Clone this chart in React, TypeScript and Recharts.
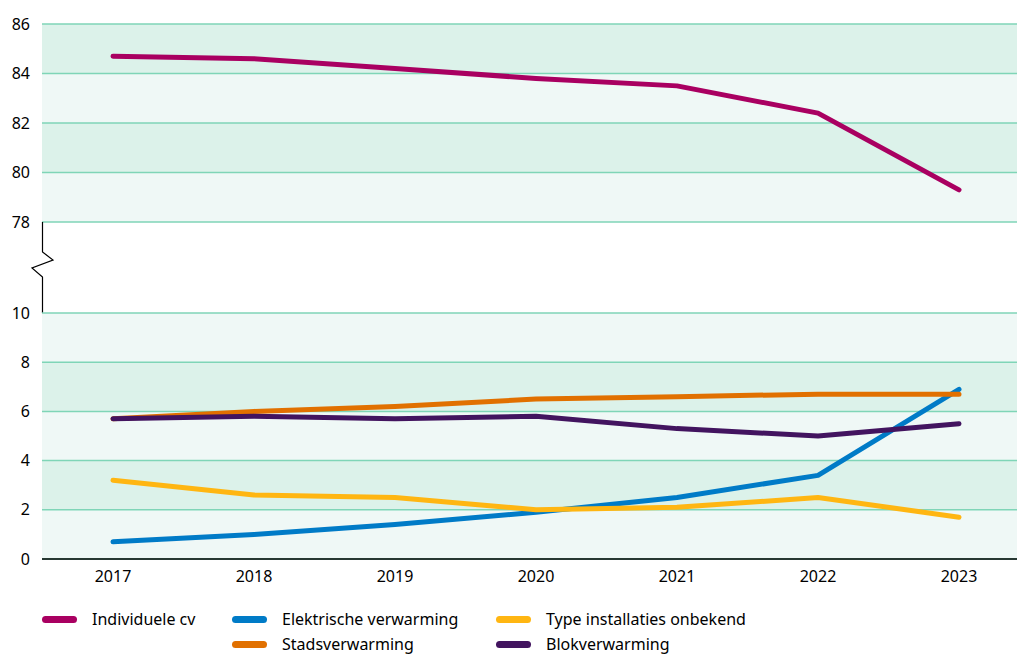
import { CartesianGrid, Line, LineChart, XAxis, YAxis } from "recharts";

const years = ["2017", "2018", "2019", "2020", "2021", "2022", "2023"];
const individueleCv = [84.7, 84.6, 84.2, 83.8, 83.5, 82.4, 79.3];
const elektrisch = [0.7, 1.0, 1.4, 1.9, 2.5, 3.4, 6.9];
const onbekend = [3.2, 2.6, 2.5, 2.0, 2.1, 2.5, 1.7];
const stads = [5.7, 6.0, 6.2, 6.5, 6.6, 6.7, 6.7];
const blok = [5.7, 5.8, 5.7, 5.8, 5.3, 5.0, 5.5];

const topTicks = [78, 80, 82, 84, 86];
const bottomTicks = [0, 2, 4, 6, 8, 10];

const data = years.map((year, i) => ({
  year,
  individueleCv: individueleCv[i],
  elektrisch: elektrisch[i],
  onbekend: onbekend[i],
  stads: stads[i],
  blok: blok[i],
}));

const FONT = "'Noto Sans', sans-serif";
const DARK = "#dcf2ea";
const LIGHT = "#eff8f6";
const GRID = "#7fd5b7";

const series = [
  { key: "elektrisch", name: "Elektrische verwarming", color: "#007bc7" },
  { key: "onbekend", name: "Type installaties onbekend", color: "#ffb612" },
  { key: "stads", name: "Stadsverwarming", color: "#e17000" },
  { key: "blok", name: "Blokverwarming", color: "#42145f" },
];

const legendItems = [
  { name: "Individuele cv", color: "#a90061", x: 42, y: 619 },
  { name: "Elektrische verwarming", color: "#007bc7", x: 232, y: 619 },
  { name: "Type installaties onbekend", color: "#ffb612", x: 496, y: 619 },
  { name: "Stadsverwarming", color: "#e17000", x: 232, y: 644 },
  { name: "Blokverwarming", color: "#42145f", x: 496, y: 644 },
];

const xPadding = { left: 71, right: 58 };
const tickStyle = { fill: "#000", fontSize: 16, fontFamily: FONT };

export default function App() {
  return (
    <div
      style={{
        position: "absolute",
        left: 0,
        top: 0,
        width: 1017,
        height: 657,
        overflow: "hidden",
        background: "#fff",
        fontFamily: FONT,
      }}
    >
      <div style={{ position: "absolute", left: 0, top: 0 }}>
        <LineChart width={1017} height={232} data={data} margin={{ top: 24, right: 0, bottom: 10, left: 0 }}>
          <CartesianGrid vertical={false} stroke={GRID} strokeWidth={1.5} horizontalFill={[DARK, LIGHT]} fillOpacity={1} />
          <XAxis dataKey="year" hide padding={xPadding} />
          <YAxis
            domain={[78, 86]}
            ticks={topTicks}
            width={42}
            axisLine={false}
            tickLine={false}
            tickSize={0}
            tickMargin={12}
            tick={tickStyle}
          />
          <Line
            dataKey="individueleCv"
            stroke="#a90061"
            strokeWidth={5}
            strokeLinecap="round"
            strokeLinejoin="round"
            dot={false}
            isAnimationActive={false}
          />
        </LineChart>
      </div>

      {/* axis break marker between the two panels */}
      <svg style={{ position: "absolute", left: 0, top: 0 }} width={1017} height={320}>
        <polyline
          points="42.5,222 42.5,252 53,260 32,268 42.5,277 42.5,313"
          fill="none"
          stroke="#000"
          strokeWidth={1.2}
        />
      </svg>

      <div style={{ position: "absolute", left: 0, top: 303 }}>
        <LineChart width={1017} height={286} data={data} margin={{ top: 10, right: 0, bottom: 0, left: 0 }}>
          <CartesianGrid vertical={false} stroke={GRID} strokeWidth={1.5} horizontalFill={[LIGHT, DARK]} fillOpacity={1} />
          <XAxis
            dataKey="year"
            padding={xPadding}
            height={30}
            axisLine={{ stroke: "#000", strokeWidth: 1.5 }}
            tickLine={false}
            tickSize={0}
            tickMargin={12}
            tick={tickStyle}
          />
          <YAxis
            domain={[0, 10]}
            ticks={bottomTicks}
            width={42}
            axisLine={false}
            tickLine={false}
            tickSize={0}
            tickMargin={12}
            tick={tickStyle}
          />
          {series.map((s) => (
            <Line
              key={s.key}
              dataKey={s.key}
              name={s.name}
              stroke={s.color}
              strokeWidth={5}
              strokeLinecap="round"
              strokeLinejoin="round"
              dot={false}
              isAnimationActive={false}
            />
          ))}
        </LineChart>
      </div>

      {legendItems.map((item) => (
        <div
          key={item.name}
          style={{
            position: "absolute",
            left: item.x,
            top: item.y - 12,
            height: 24,
            display: "flex",
            alignItems: "center",
            fontSize: 16,
            color: "#000",
            whiteSpace: "nowrap",
          }}
        >
          <span
            style={{
              display: "inline-block",
              width: 35,
              height: 7,
              borderRadius: 3.5,
              background: item.color,
              marginRight: 15,
            }}
          />
          {item.name}
        </div>
      ))}
    </div>
  );
}
